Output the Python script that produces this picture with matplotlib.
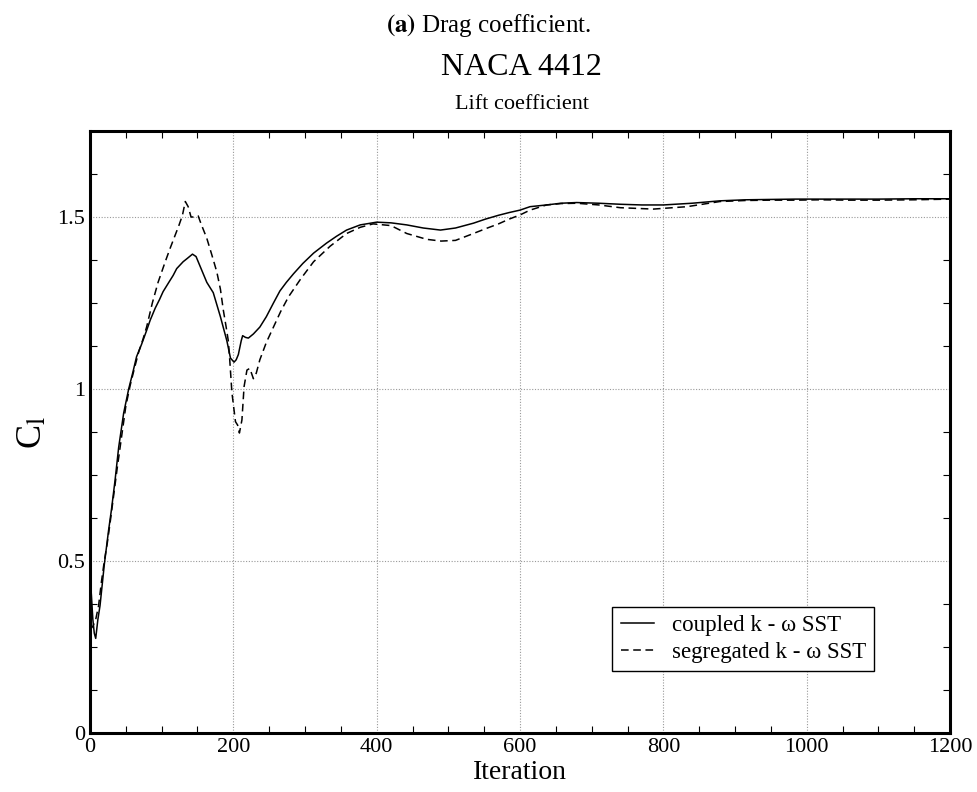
import matplotlib
matplotlib.use("Agg")
import matplotlib.pyplot as plt
from matplotlib.ticker import MultipleLocator, FormatStrFormatter

plt.rcParams['font.family'] = ['Liberation Serif', 'DejaVu Serif']
plt.rcParams['mathtext.fontset'] = 'stix'

# coupled k-omega SST (solid)
it_coupled = [0, 1, 2, 4, 6, 8, 11, 14, 17, 20, 23, 26, 30, 35, 40, 47, 54, 60, 65, 72, 79, 84,
              91, 97, 102, 110, 116, 121, 130, 136, 143, 148, 154, 163, 172, 182, 191, 196,
              201, 204, 207, 211, 213, 217, 221, 228, 237, 246, 256, 265, 274, 284, 297, 312,
              330, 344, 358, 377, 400, 420, 442, 465, 489, 510, 535, 552, 570, 585, 600, 614,
              637, 657, 679, 710, 740, 770, 800, 840, 879, 915, 949, 985, 1019, 1060, 1100,
              1150, 1200]
cl_coupled = [0.22, 0.43, 0.40, 0.33, 0.29, 0.275, 0.33, 0.37, 0.43, 0.49, 0.54, 0.59, 0.65,
              0.735, 0.83, 0.93, 1.00, 1.05, 1.094, 1.13, 1.17, 1.20, 1.235, 1.26, 1.283,
              1.31, 1.33, 1.35, 1.37, 1.38, 1.392, 1.385, 1.355, 1.31, 1.28, 1.21, 1.14,
              1.09, 1.078, 1.085, 1.10, 1.14, 1.155, 1.15, 1.148, 1.16, 1.18, 1.21, 1.25,
              1.285, 1.31, 1.335, 1.365, 1.395, 1.424, 1.444, 1.462, 1.477, 1.485, 1.483,
              1.477, 1.468, 1.462, 1.468, 1.482, 1.494, 1.505, 1.513, 1.52, 1.53, 1.535,
              1.540, 1.542, 1.540, 1.537, 1.535, 1.535, 1.540, 1.547, 1.550, 1.551, 1.552,
              1.552, 1.552, 1.552, 1.553, 1.553]

# segregated k-omega SST (dashed)
it_segr = [0, 4, 8, 12, 16, 20, 24, 28, 33, 38, 44, 50, 56, 62, 68, 74, 79, 83, 87, 91, 95,
           100, 105, 112, 119, 124, 129, 133, 137, 141, 146, 151, 155, 163, 170, 177, 182,
           186, 190, 193, 195, 198, 203, 206, 208.5, 212, 215, 219, 223, 228, 232, 237, 246,
           256, 266, 277, 294, 312, 335, 358, 377, 395, 420, 442, 470, 490, 510, 535, 552,
           570, 585, 600, 614, 637, 657, 679, 710, 740, 786, 833, 879, 915, 950, 985, 1019,
           1060, 1100, 1150, 1200]
cl_segr = [0.30, 0.31, 0.33, 0.37, 0.44, 0.50, 0.55, 0.61, 0.69, 0.77, 0.86, 0.95, 1.01, 1.06,
           1.108, 1.145, 1.18, 1.215, 1.25, 1.28, 1.31, 1.34, 1.37, 1.41, 1.448, 1.475, 1.505,
           1.545, 1.53, 1.50, 1.50, 1.503, 1.48, 1.438, 1.39, 1.34, 1.29, 1.23, 1.18, 1.14,
           1.085, 0.99, 0.905, 0.895, 0.872, 0.91, 1.007, 1.055, 1.06, 1.03, 1.046, 1.085,
           1.135, 1.18, 1.225, 1.268, 1.32, 1.37, 1.415, 1.452, 1.47, 1.48, 1.475, 1.452,
           1.435, 1.43, 1.432, 1.452, 1.466, 1.48, 1.494, 1.506, 1.52, 1.535, 1.539, 1.54,
           1.535, 1.527, 1.523, 1.53, 1.545, 1.548, 1.549, 1.549, 1.55, 1.549, 1.549, 1.550,
           1.552]

fig = plt.figure(figsize=(9.77, 7.92), dpi=100)
ax = fig.add_axes([0.0921, 0.0745, 0.8803, 0.7601])

ax.plot(it_coupled, cl_coupled, color='black', lw=1.1, label='coupled k - \u03c9 SST')
ax.plot(it_segr, cl_segr, color='black', lw=1.1, ls=(0, (5, 3)), label='segregated k - \u03c9 SST')

ax.set_xlim(0, 1200)
ax.set_ylim(0, 1.75)
ax.xaxis.set_major_locator(MultipleLocator(200))
ax.xaxis.set_minor_locator(MultipleLocator(50))
ax.yaxis.set_major_locator(MultipleLocator(0.5))
ax.yaxis.set_minor_locator(MultipleLocator(0.125))
ax.yaxis.set_major_formatter(FormatStrFormatter('%g'))
ax.grid(True, which='major', ls=(0, (1, 1.5)), color='#999999', lw=0.8)

ax.tick_params(which='both', direction='in', top=True, right=True, labelsize=16)
ax.tick_params(which='major', length=0)
ax.tick_params(which='minor', length=5, width=0.8)
for s in ax.spines.values():
    s.set_linewidth(2.2)

ax.set_xlabel('Iteration', fontsize=20, labelpad=2)
ax.set_ylabel(r'C$_\mathrm{l}$', fontsize=26, labelpad=6)

leg = ax.legend(loc='lower right', bbox_to_anchor=(0.912, 0.103), fontsize=16.5,
                fancybox=False, framealpha=1, edgecolor='black', borderaxespad=0,
                handlelength=1.45, handletextpad=0.8, borderpad=0.35, labelspacing=0.25)
leg.get_frame().set_linewidth(1.0)

fig.text(0.5, 0.968, r'$\mathbf{(a)}$ Drag coefficient.', ha='center', va='center', fontsize=18)
fig.text(0.534, 0.915, 'NACA 4412', ha='center', va='center', fontsize=23)
fig.text(0.534, 0.868, 'Lift coefficient', ha='center', va='center', fontsize=16)

fig.savefig('out.png', dpi=100)
